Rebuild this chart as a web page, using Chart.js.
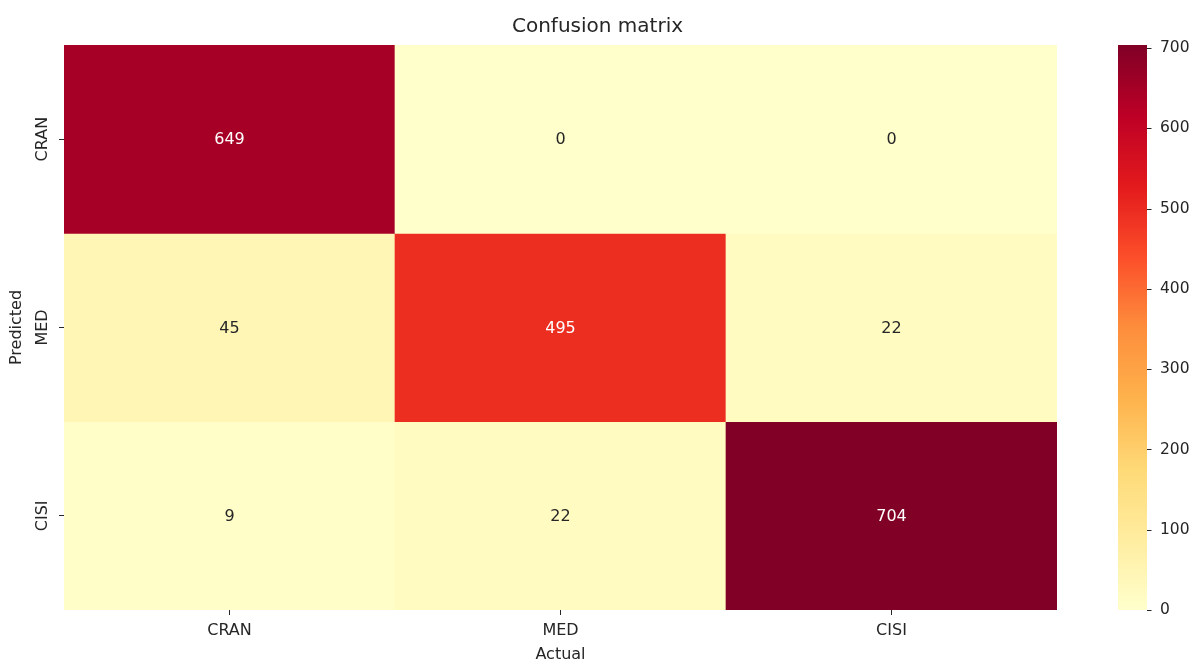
<!DOCTYPE html>
<html>
<head>
<meta charset="utf-8">
<script src="https://cdn.jsdelivr.net/npm/chart.js@4/dist/chart.umd.min.js"></script>
<style>
  html, body { margin: 0; padding: 0; background: #fff; }
  #wrap { width: 1195px; height: 664px; }
</style>
</head>
<body>
<div id="wrap"><canvas id="chart"></canvas></div>
<script>
// confusion matrix values, rows = predicted, columns = actual
const actualLabels = ['CRAN', 'MED', 'CISI'];
const predictedLabels = ['CRAN', 'MED', 'CISI'];
const rowCran = [649, 0, 0];
const rowMed = [45, 495, 22];
const rowCisi = [9, 22, 704];
const matrix = [rowCran, rowMed, rowCisi];
const colorbarTicks = [0, 100, 200, 300, 400, 500, 600, 700];
const vMax = 704;

// matplotlib YlOrRd anchors
const ylOrRd = ['#ffffcc', '#ffeda0', '#fed976', '#feb24c', '#fd8d3c', '#fc4e2a', '#e31a1c', '#bd0026', '#800026'];
const TEXT = '#262626';
const FONT = "'DejaVu Sans', sans-serif";

function hexToRgb(h) {
  return [parseInt(h.substr(1, 2), 16), parseInt(h.substr(3, 2), 16), parseInt(h.substr(5, 2), 16)];
}

function cmap(v) {
  let t = Math.max(0, Math.min(1, v / vMax)) * (ylOrRd.length - 1);
  let i = Math.min(Math.floor(t), ylOrRd.length - 2);
  let f = t - i;
  let a = hexToRgb(ylOrRd[i]);
  let b = hexToRgb(ylOrRd[i + 1]);
  let c = a.map((x, k) => Math.round(x + (b[k] - x) * f));
  return 'rgb(' + c.join(',') + ')';
}

function isDark(v) {
  let c = cmap(v).match(/\d+/g).map(Number);
  let lum = 0.299 * c[0] + 0.587 * c[1] + 0.114 * c[2];
  return lum < 140;
}

const datasets = matrix.map((row, r) => ({
  label: predictedLabels[r],
  data: row.map(() => [r, r + 1]),
  backgroundColor: row.map(v => cmap(v)),
  borderWidth: 0,
  barPercentage: 1,
  categoryPercentage: 1,
  grouped: false,
}));

const annotatePlugin = {
  id: 'annotate',
  afterDatasetsDraw(chart) {
    let ctx = chart.ctx;
    ctx.save();
    ctx.font = '16px ' + FONT;
    ctx.textAlign = 'center';
    ctx.textBaseline = 'middle';
    matrix.forEach((row, r) => {
      let meta = chart.getDatasetMeta(r);
      row.forEach((v, c) => {
        let bar = meta.data[c];
        ctx.fillStyle = isDark(v) ? '#ffffff' : TEXT;
        ctx.fillText(String(v), bar.x, (bar.y + bar.base) / 2 + 1);
      });
    });
    // rotated y tick labels
    let yScale = chart.scales.y;
    ctx.fillStyle = TEXT;
    predictedLabels.forEach((lab, r) => {
      ctx.save();
      ctx.translate(43, yScale.getPixelForValue(r + 0.5));
      ctx.rotate(-Math.PI / 2);
      ctx.fillText(lab, 0, 0);
      ctx.restore();
    });
    // colorbar
    let cb = chart.scales.cb;
    let x0 = cb.left + 61;
    let x1 = cb.left + 90;
    let yTop = cb.getPixelForValue(vMax);
    let yBot = cb.getPixelForValue(0);
    let grad = ctx.createLinearGradient(0, yBot, 0, yTop);
    ylOrRd.forEach((col, i) => grad.addColorStop(i / (ylOrRd.length - 1), col));
    ctx.fillStyle = grad;
    ctx.fillRect(x0, yTop, x1 - x0, yBot - yTop);
    ctx.strokeStyle = TEXT;
    ctx.fillStyle = TEXT;
    ctx.lineWidth = 1;
    ctx.font = '15.5px ' + FONT;
    ctx.textAlign = 'left';
    colorbarTicks.forEach(v => {
      let py = cb.getPixelForValue(v);
      let y = Math.round(py) + 0.5;
      ctx.beginPath();
      ctx.moveTo(x1, y);
      ctx.lineTo(x1 + 4.5, y);
      ctx.stroke();
      ctx.fillText(String(v), x1 + 13, py);
    });
    ctx.restore();
  }
};

new Chart(document.getElementById('chart'), {
  type: 'bar',
  data: { labels: actualLabels, datasets: datasets },
  options: {
    responsive: true,
    maintainAspectRatio: false,
    animation: false,
    layout: { padding: { left: 0, right: 0, top: 0, bottom: 0 } },
    plugins: {
      legend: { display: false },
      tooltip: { enabled: false },
      title: {
        display: true,
        text: 'Confusion matrix',
        color: TEXT,
        font: { family: FONT, size: 20, weight: 'normal' },
        padding: { top: 15, bottom: 6 },
      },
    },
    scales: {
      x: {
        grid: { display: true, offset: false, drawOnChartArea: false, drawTicks: true, tickLength: 5, color: TEXT },
        border: { display: false },
        ticks: { color: TEXT, font: { family: FONT, size: 16 }, padding: 6, maxRotation: 0 },
        title: { display: true, text: 'Actual', color: TEXT, font: { family: FONT, size: 16 }, padding: { top: 0, bottom: 0 } },
        afterFit(scale) { scale.height = 54; },
      },
      y: {
        type: 'linear',
        min: 0,
        max: 3,
        reverse: true,
        grid: { display: true, drawOnChartArea: false, drawTicks: true, tickLength: 5, color: TEXT },
        border: { display: false },
        ticks: { display: false },
        afterBuildTicks(scale) { scale.ticks = predictedLabels.map((l, i) => ({ value: i + 0.5 })); },
        title: { display: true, text: 'Predicted', color: TEXT, font: { family: FONT, size: 16 }, padding: { top: 7, bottom: 0 } },
        afterFit(scale) { scale.width = 64; scale.paddingTop = 0; scale.paddingBottom = 0; },
      },
      cb: {
        type: 'linear',
        position: 'right',
        min: 0,
        max: vMax,
        grid: { display: false, drawOnChartArea: false },
        border: { display: false },
        ticks: { display: false },
        afterBuildTicks(scale) { scale.ticks = colorbarTicks.map(v => ({ value: v })); },
        afterFit(scale) { scale.width = 138; scale.paddingTop = 0; scale.paddingBottom = 0; },
      },
    },
  },
  plugins: [annotatePlugin],
});
</script>
</body>
</html>
